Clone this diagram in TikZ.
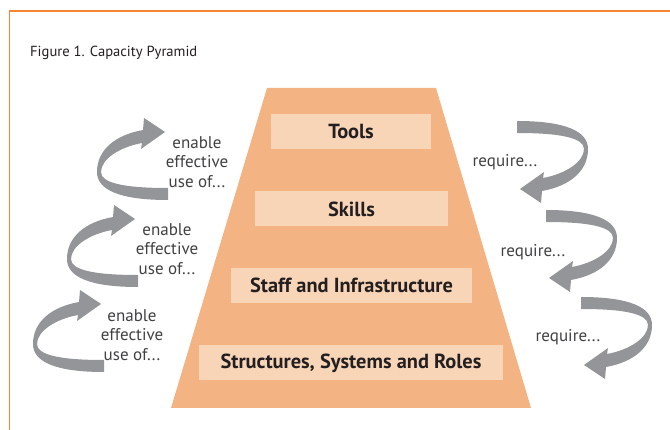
\documentclass[tikz,border=0pt]{standalone}
\usepackage{fontspec}
\setmainfont{PT Sans}
\definecolor{pyrfill}{HTML}{F3B382}
\definecolor{boxfill}{HTML}{F9D5B8}
\definecolor{arrowgray}{HTML}{939598}
\definecolor{frameorange}{HTML}{F58634}
\definecolor{labelgray}{HTML}{414042}
\definecolor{boxtext}{HTML}{231F20}

\tikzset{
  level/.style={fill=boxfill, inner sep=0pt, minimum height=35, text=boxtext,
    font=\fontsize{20.4}{23}\selectfont\bfseries},
  hint/.style={align=center, text=labelgray, inner sep=0pt,
    font=\fontsize{17}{19.5}\selectfont},
  pics/turn/.style={code={
    \fill[arrowgray] (36,41) .. controls (-12,41) and (-35,31) .. (-35,13)
      .. controls (-35,-9) and (-17,-24) .. (11,-29)
      -- (12,-41) -- (33,-27) -- (9,-10) -- (10,-16)
      .. controls (-12,-12) and (-31,0) .. (-31,13)
      .. controls (-31,24) and (-8,29) .. (36,29) -- cycle;
  }}
}

\begin{document}
\begin{tikzpicture}[x=1pt, y=-1pt]
	\useasboundingbox (0,0) rectangle (670,430);
	\draw [frameorange, line width=1.5] (670,11) -- (9.5,11) -- (9.5,430);
	\node [anchor=base west, text=boxtext, inner sep=0pt, font=\fontsize{14.6}{17}\selectfont] (title) at (30,57) {Figure 1. Capacity Pyramid};

	% pyramid and its levels
	\fill [pyrfill] (267,88) -- (436,88) -- (531,408) -- (171,408) -- cycle;
	\node [level, minimum width=160] (tools) at (351,131.5) {Tools};
	\node [level, minimum width=193] (skills) at (351.5,209) {Skills};
	\node [level, minimum width=241] (staff) at (351.5,285.5) {Staff and Infrastructure};
	\node [level, minimum width=304] (roles) at (351,363) {Structures, Systems and Roles};

	% left side
	\pic at (132,159) {turn};
	\pic at (102,246) {turn};
	\pic at (68,331) {turn};
	\node [hint] (enable1) at (197,162) {enable\\effective\\use of...};
	\node [hint] (enable2) at (167,249) {enable\\effective\\use of...};
	\node [hint] (enable3) at (132,335) {enable\\effective\\use of...};

	% right side
	\pic [rotate=180] at (553,162) {turn};
	\pic [rotate=180] at (582,251) {turn};
	\pic [rotate=180] at (617,338) {turn};
	\node [hint] (require1) at (505,162) {require...};
	\node [hint] (require2) at (533,252) {require...};
	\node [hint] (require3) at (568,337) {require...};
\end{tikzpicture}
\end{document}
